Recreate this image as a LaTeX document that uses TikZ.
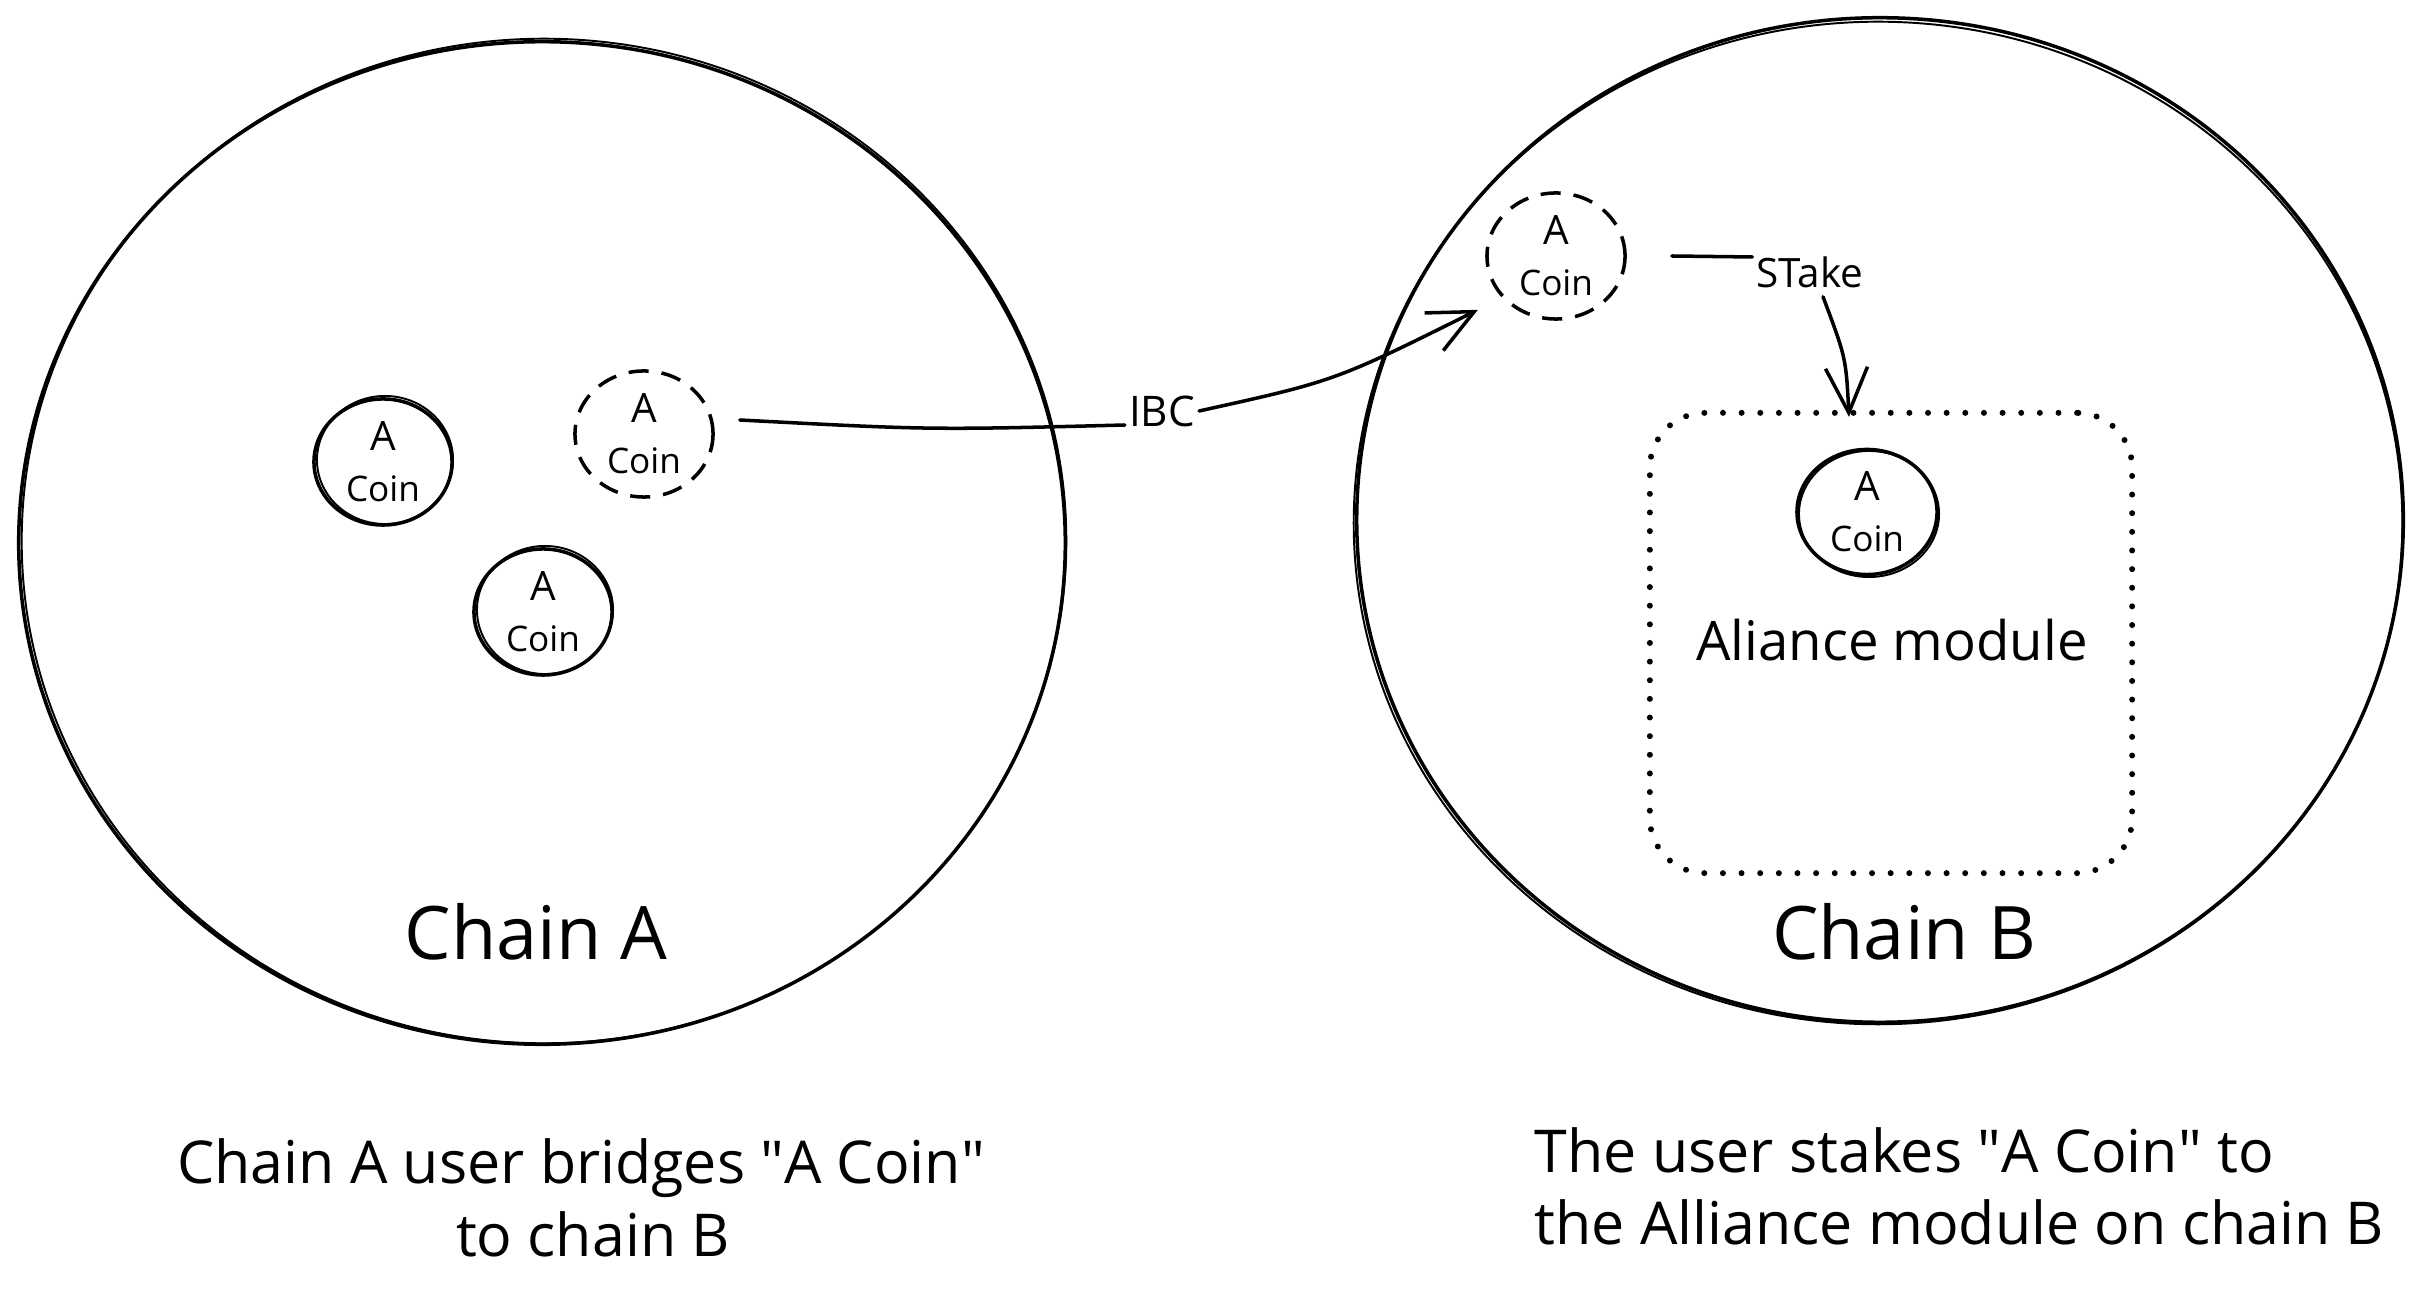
\documentclass[tikz,border=0pt]{standalone}
\usepackage{fontspec}
\setmainfont{Open Sans}
\usetikzlibrary{shapes.geometric,arrows.meta}
\begin{document}
\begin{tikzpicture}[x=0.01cm,y=-0.01cm,
  sk/.style={line width=1pt, line cap=round, line join=round},
  thin sk/.style={line width=0.55pt, line cap=round},
  bigring/.style={ellipse, draw, sk, inner sep=0pt, outer sep=0pt},
  coin/.style={ellipse, draw, sk, minimum width=1.38cm, minimum height=1.26cm,
    inner sep=0pt, align=center, font=\fontsize{10}{14.5}\selectfont},
  dcoin/.style={coin, dash pattern=on 5.7pt off 3.7pt, line cap=butt},
  modbox/.style={draw, line width=1.7pt, line cap=round, dash pattern=on 0pt off 5.3pt,
    rounded corners=0.55cm, minimum width=4.82cm, minimum height=4.6cm, inner sep=0pt},
  title/.style={font=\fontsize{21}{25}\selectfont},
  modlbl/.style={font=\fontsize{15.5}{19}\selectfont},
  captxt/.style={font=\fontsize{16.8}{20.4}\selectfont, inner sep=0pt},
  edgelbl/.style={inner sep=1pt},
  arr/.style={-{Straight Barb[length=0.45cm,width=0.42cm]}}
]
\useasboundingbox (0,0) rectangle (2424,1295);
\fill[white] (0,0) rectangle (2424,1295);

% big chain circles
\node[bigring, minimum width=10.46cm, minimum height=10.02cm] (chainA) at (542,543) {};
\draw[thin sk] (544,541) ellipse [x radius=5.22cm, y radius=5.02cm];
\node[bigring, minimum width=10.46cm, minimum height=10.04cm] (chainB) at (1880,520) {};
\draw[thin sk] (1878,523) ellipse [x radius=5.24cm, y radius=5.01cm];

% chain labels
\node[title] (labA) at (536,932) {Chain A};
\node[title] (labB) at (1904,932) {Chain B};

% coins on chain A
\node[coin] (c1) at (383,462) {\fontsize{11.5}{14.5}\selectfont A\\Coin};
\draw[thin sk] (385,460) ellipse [x radius=0.68cm, y radius=0.64cm];
\node[coin] (c3) at (543,612) {\fontsize{11.5}{14.5}\selectfont A\\Coin};
\draw[thin sk] (545,610) ellipse [x radius=0.68cm, y radius=0.64cm];
\node[dcoin] (dA) at (644,434) {\fontsize{11.5}{14.5}\selectfont A\\Coin};

% coins on chain B
\node[dcoin] (dB) at (1556,256) {\fontsize{11.5}{14.5}\selectfont A\\Coin};

% Alliance module
\node[modbox] (mod) at (1891,643) {};
\node[coin, minimum width=1.40cm, minimum height=1.25cm] (c4) at (1867,512) {\fontsize{11.5}{14.5}\selectfont A\\Coin};
\draw[thin sk] (1869,514) ellipse [x radius=0.70cm, y radius=0.63cm];
\node[modlbl] (modtxt) at (1892,640) {Aliance module};

% IBC connector
\node[edgelbl, font=\fontsize{12}{14}\selectfont] (ibc) at (1162,411) {IBC};
\draw[sk] ([xshift=0.25cm,yshift=0.14cm]dA.east) .. controls (930,430) .. ([yshift=-0.14cm]ibc.west);
\draw[sk, arr] (ibc.east) .. controls (1335,381) .. ([xshift=-0.28cm,yshift=-0.08cm]dB.south west);

% Stake connector
\node[edgelbl, font=\fontsize{11.5}{14}\selectfont] (stake) at (1810,272) {STake};
\draw[sk] ([xshift=0.45cm]dB.east) -- ([yshift=0.15cm]stake.west);
\draw[sk, arr] ([xshift=0.13cm,yshift=-0.05cm]stake.south) .. controls (1846,358) .. ([xshift=-0.42cm,yshift=-0.07cm]mod.north);

% captions
\node[captxt, anchor=base] (capA1) at (581,1183) {Chain A user bridges \textquotedbl A Coin\textquotedbl};
\node[captxt, anchor=base] (capA2) at (593,1256) {to chain B};
\node[captxt, anchor=base west] (capB1) at (1534,1172) {The user stakes \textquotedbl A Coin\textquotedbl{} to};
\node[captxt, anchor=base west] (capB2) at (1534,1244) {the Alliance module on chain B};
\end{tikzpicture}
\end{document}
